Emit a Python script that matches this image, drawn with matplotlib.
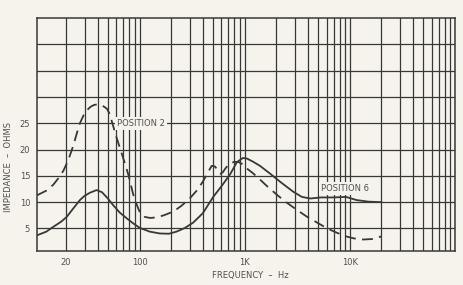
import numpy as np
import matplotlib
matplotlib.use('Agg')
import matplotlib.pyplot as plt
from matplotlib.ticker import FixedLocator, NullLocator

# impedance curves
pos2_freq = [10.6, 13, 15.1, 17, 18.9, 21, 23.5, 25.5, 27.1, 30.3, 34, 37, 40.5, 44, 48.8,
             52, 54.8, 60, 65.3, 72, 78.6, 87, 95, 102, 112, 126, 145, 170, 209, 250, 300,
             350, 400, 440, 485, 520, 560, 590, 620, 660, 720, 800, 880, 960, 1050, 1200,
             1400, 1600, 2000, 2400, 3100, 4000, 5000, 6100, 7500, 9200, 11000,
             13400, 16500, 20000]
pos2_ohms = [11.3, 12.2, 13.3, 14.6, 16.0, 18.0, 20.8, 23.3, 25.0, 27.1, 28.1, 28.5, 28.6,
             28.4, 27.8, 26.8, 25.2, 22.5, 20.2, 17.6, 15.1, 11.5, 9.3, 7.8, 7.2, 7.0, 7.1,
             7.5, 8.2, 9.3, 10.7, 12.2, 13.9, 15.4, 16.9, 16.8, 16.0, 15.4, 15.7, 16.5, 17.3,
             17.7, 17.6, 17.2, 16.4, 15.5, 14.3, 13.2, 11.5, 10.2, 8.6, 7.1, 6.0, 5.0,
             4.2, 3.5, 3.1, 2.9, 3.0, 3.5]

pos6_freq = [10.6, 13, 15.1, 18, 20.3, 23, 27.1, 30, 33.8, 39, 43.9, 50, 56.3, 65, 75.9, 88,
             101, 125, 156, 190, 225, 270, 323, 400, 502, 600, 727, 842, 960, 1050, 1200,
             1400, 1750, 2200, 2890, 3500, 4200, 5300, 7000, 9200, 11600, 15000, 20000]
pos6_ohms = [3.7, 4.4, 5.3, 6.3, 7.2, 8.6, 10.4, 11.2, 11.8, 12.3, 11.9, 10.7, 9.4, 8.0, 6.9,
             5.9, 5.1, 4.4, 4.05, 4.0, 4.4, 5.1, 6.1, 7.9, 11.0, 13.0, 15.3, 17.6, 18.4, 18.3,
             17.7, 16.9, 15.4, 13.8, 12.0, 11.0, 10.7, 10.9, 10.9, 11.0, 10.4, 10.1, 10.0]

x_labels = {20: '20', 100: '100', 1000: '1K', 10000: '10K'}
y_labels = [5, 10, 15, 20, 25]

bg = '#f5f3ec'
ink = '#383838'
txt = '#505050'

fig = plt.figure(figsize=(4.63, 2.85), dpi=100, facecolor=bg)
ax = fig.add_axes([0.08, 0.119, 0.9027, 0.8175])
ax.set_facecolor(bg)
ax.set_xscale('log')
ax.set_xlim(10.6, 100000)
ax.set_ylim(0.7, 45)

# log grid, 20 Hz .. 90 kHz
vlines = [m * 10 ** d for d in range(1, 5) for m in range(1, 10) if m * 10 ** d >= 20]
for v in vlines:
    ax.axvline(v, color=ink, lw=0.9, zorder=1)
for h in range(5, 45, 5):
    ax.axhline(h, color=ink, lw=0.9, zorder=1)
for s in ax.spines.values():
    s.set_color(ink)
    s.set_linewidth(1.1)

ax.plot(pos2_freq, pos2_ohms, color=ink, lw=1.3, dashes=(6, 3.5), zorder=3)
ax.plot(pos6_freq, pos6_ohms, color=ink, lw=1.3, zorder=3)

ax.xaxis.set_major_locator(FixedLocator(list(x_labels.keys())))
ax.xaxis.set_minor_locator(NullLocator())
ax.set_xticklabels(list(x_labels.values()))
ax.set_yticks(y_labels)
ax.set_yticklabels([str(v) for v in y_labels])
ax.tick_params(length=0, labelsize=6, labelcolor=txt, pad=5)

ax.text(61, 25, 'POSITION 2', fontsize=6, color=txt, va='center', ha='left', zorder=4,
        bbox=dict(facecolor=bg, edgecolor='none', pad=1.5))
ax.text(5300, 12.6, 'POSITION 6', fontsize=6, color=txt, va='center', ha='left', zorder=4,
        bbox=dict(facecolor=bg, edgecolor='none', pad=1.5))

fig.text(0.54, 0.035, 'FREQUENCY  \u2013  Hz', fontsize=6, color=txt, ha='center', va='center')
fig.text(0.018, 0.415, 'IMPEDANCE  \u2013  OHMS', fontsize=6, color=txt, ha='center', va='center',
         rotation=90)

fig.savefig('out.png', dpi=100, facecolor=bg)
